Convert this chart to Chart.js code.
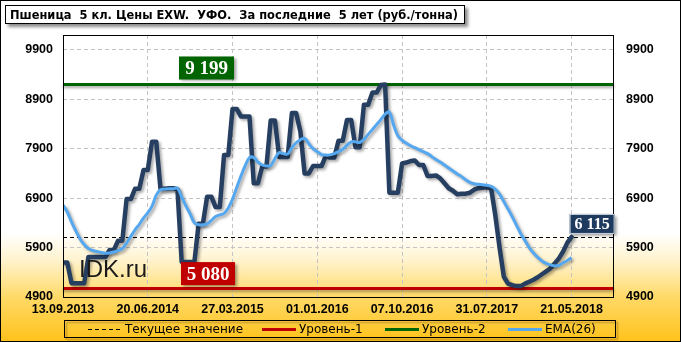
<!DOCTYPE html>
<html>
<head>
<meta charset="utf-8">
<script src="https://cdn.jsdelivr.net/npm/chart.js@4.4.1/dist/chart.umd.min.js"></script>
<style>
html, body { margin: 0; padding: 0; background: #fff; }
canvas { display: block; }
</style>
</head>
<body>
<canvas id="myChart" width="681" height="342"></canvas>
<script>
// Подписи оси X (через каждые 20 точек)
const xTickIndex = [0, 20, 40, 60, 80, 100, 120];
const xTickLabels = ['13.09.2013', '20.06.2014', '27.03.2015', '01.01.2016', '07.10.2016', '31.07.2017', '21.05.2018'];
const yTickValues = [4900, 5900, 6900, 7900, 8900, 9900];

// Цена, руб./тонна
const priceValues = [
  5600, 5600, 5180, 5180, 5180, 5180, 5710, 5710, 5710, 5710,
  5710, 5850, 5850, 6040, 6040, 6880, 6880, 7090, 7090, 7470,
  7470, 8040, 8040, 7090, 7090, 7100, 7100, 7080, 5610, 5610,
  5610, 5610, 6380, 6380, 6930, 6930, 6720, 6720, 7775, 7775,
  8705, 8705, 8550, 8550, 8550, 7200, 7200, 7540, 7540, 8470,
  8470, 7730, 7730, 7730, 8620, 8620, 8250, 7400, 7400, 7550,
  7550, 7550, 7750, 7720, 7720, 8060, 8060, 8480, 8480, 7930,
  7930, 8790, 8790, 9035, 9035, 9190, 9199, 7010, 7010, 7010,
  7600, 7620, 7650, 7660, 7570, 7570, 7350, 7350, 7360, 7300,
  7200, 7100, 7050, 6980, 6990, 6990, 7010, 7070, 7100, 7110,
  7120, 7100, 6550, 5900, 5310, 5170, 5140, 5120, 5120, 5170,
  5210, 5250, 5300, 5360, 5420, 5480, 5580, 5680, 5820, 6000,
  6115
];

// EMA(26)
const emaValues = [
  6760, 6620, 6420, 6240, 6080, 5960, 5880, 5840, 5820, 5800,
  5785, 5790, 5810, 5840, 5880, 5990, 6130, 6260, 6370, 6500,
  6600, 6740, 6960, 7070, 7080, 7090, 7090, 7100, 6920, 6740,
  6580, 6400, 6360, 6360, 6380, 6450, 6530, 6560, 6590, 6700,
  6880, 7120, 7350, 7560, 7720, 7720, 7630, 7570, 7550, 7560,
  7700, 7820, 7800, 7790, 7920, 8020, 8080, 8110, 8000, 7900,
  7840, 7780, 7770, 7775, 7800, 7840, 7890, 7970, 8040, 8040,
  8025, 8090, 8190, 8290, 8390, 8490, 8600, 8640, 8380, 8160,
  8070, 8010, 7960, 7920, 7880, 7840, 7800, 7740, 7680, 7630,
  7570, 7510, 7450, 7390, 7340, 7270, 7220, 7190, 7180, 7170,
  7160, 7140, 7080, 6980, 6830, 6680, 6520, 6350, 6180, 6040,
  5900, 5790, 5700, 5630, 5580, 5550, 5530, 5540, 5590, 5640,
  5700
];

const currentValue = 6115;
const level1 = 5080;
const level2 = 9199;

const titleText = 'Пшеница  5 кл. Цены EXW.  УФО.  За последние  5 лет (руб./тонна)';

function fmt(v) {
  return String(v).replace(/\B(?=(\d{3})+(?!\d))/g, ' ');
}

// Подпись значения в цветной плашке
function drawTag(ctx, x, y, w, h, color, text, font, frame) {
  ctx.save();
  ctx.shadowColor = 'rgba(0,0,0,0.4)';
  ctx.shadowOffsetX = 2;
  ctx.shadowOffsetY = 2;
  ctx.shadowBlur = 3;
  ctx.fillStyle = color;
  ctx.fillRect(x, y, w, h);
  ctx.restore();
  if (frame) {
    ctx.save();
    ctx.strokeStyle = frame;
    ctx.lineWidth = 1;
    ctx.strokeRect(x + 0.5, y + 0.5, w - 1, h - 1);
    ctx.restore();
  }
  ctx.save();
  ctx.fillStyle = '#ffffff';
  ctx.font = font;
  ctx.textAlign = 'center';
  ctx.textBaseline = 'middle';
  ctx.fillText(text, x + w / 2, y + h / 2 + 1);
  ctx.restore();
}

const decorPlugin = {
  id: 'decor',
  beforeDraw(chart) {
    const ctx = chart.ctx;
    const g = ctx.createLinearGradient(0, 0, 0, chart.height);
    g.addColorStop(0, '#ffffff');
    g.addColorStop(0.68, '#ffffff');
    g.addColorStop(0.76, '#fff3cf');
    g.addColorStop(0.87, '#ffd966');
    g.addColorStop(1, '#ffc21a');
    ctx.save();
    ctx.fillStyle = g;
    ctx.fillRect(0, 0, chart.width, chart.height);
    ctx.restore();
  },
  beforeDatasetsDraw(chart) {
    const ctx = chart.ctx;
    const a = chart.chartArea;
    const y = chart.scales.y;
    // уровни
    [[level2, '#006400'], [level1, '#c00000']].forEach(([v, c]) => {
      const py = Math.round(y.getPixelForValue(v)) + 0.5;
      ctx.save();
      ctx.shadowColor = 'rgba(0,0,0,0.35)';
      ctx.shadowOffsetY = 2;
      ctx.shadowBlur = 3;
      ctx.strokeStyle = c;
      ctx.lineWidth = 3;
      ctx.beginPath();
      ctx.moveTo(a.left, py);
      ctx.lineTo(a.right, py);
      ctx.stroke();
      ctx.restore();
    });
    // текущее значение
    const cy = Math.round(y.getPixelForValue(currentValue)) + 0.5;
    ctx.save();
    ctx.strokeStyle = '#000000';
    ctx.lineWidth = 1;
    ctx.setLineDash([4, 3]);
    ctx.beginPath();
    ctx.moveTo(a.left, cy);
    ctx.lineTo(a.right, cy);
    ctx.stroke();
    ctx.restore();
  },
  beforeDatasetDraw(chart) {
    const ctx = chart.ctx;
    ctx.save();
    ctx.shadowColor = 'rgba(0,0,0,0.35)';
    ctx.shadowOffsetX = 2;
    ctx.shadowOffsetY = 2;
    ctx.shadowBlur = 3;
  },
  afterDatasetDraw(chart) {
    chart.ctx.restore();
  },
  afterDatasetsDraw(chart) {
    const ctx = chart.ctx;
    const a = chart.chartArea;
    const y = chart.scales.y;
    const x = chart.scales.x;

    ctx.save();
    ctx.fillStyle = '#1a1a1a';
    ctx.font = '24px "Liberation Sans", Arial, sans-serif';
    ctx.textBaseline = 'alphabetic';
    ctx.fillText('IDK.ru', 79, 277);
    ctx.restore();

    ctx.save();
    ctx.strokeStyle = '#000000';
    ctx.lineWidth = 1;
    ctx.strokeRect(a.left + 0.5, a.top + 0.5, a.right - a.left - 1, a.bottom - a.top);
    ctx.restore();

    const serif = 'bold 19px "Liberation Serif", "Times New Roman", serif';
    const y2 = y.getPixelForValue(level2);
    drawTag(ctx, 179, y2 - 28, 55, 23, '#006400', fmt(level2), serif);
    const y1 = y.getPixelForValue(level1);
    drawTag(ctx, 181, y1 - 26, 54, 23, '#c00000', fmt(level1), serif);
    const yc = y.getPixelForValue(currentValue);
    const xc = x.getPixelForValue(priceValues.length - 1);
    drawTag(ctx, xc - 2, yc - 23, 45, 20, '#1f3a5f', fmt(currentValue),
      'bold 16px "Liberation Serif", "Times New Roman", serif', '#c9d3df');
  },
  afterDraw(chart) {
    const ctx = chart.ctx;

    // заголовок
    ctx.save();
    ctx.shadowColor = 'rgba(0,0,0,0.45)';
    ctx.shadowOffsetX = 3;
    ctx.shadowOffsetY = 3;
    ctx.shadowBlur = 3;
    ctx.fillStyle = '#ffffff';
    ctx.fillRect(5, 5, 460, 19);
    ctx.restore();
    ctx.save();
    ctx.strokeStyle = '#000000';
    ctx.strokeRect(5.5, 5.5, 459, 18);
    ctx.fillStyle = '#000000';
    ctx.font = 'bold 12px "DejaVu Sans", sans-serif';
    ctx.textBaseline = 'alphabetic';
    ctx.fillText(titleText, 10, 19, 448);
    ctx.restore();

    // легенда
    ctx.save();
    ctx.shadowColor = 'rgba(0,0,0,0.35)';
    ctx.shadowOffsetX = 2;
    ctx.shadowOffsetY = 2;
    ctx.shadowBlur = 2;
    ctx.strokeStyle = '#000000';
    ctx.strokeRect(64.5, 320.5, 551, 17);
    ctx.restore();

    const items = [
      { x: 88, text: 'Текущее значение', color: '#000000', width: 1, dash: [4, 3] },
      { x: 262, text: 'Уровень-1', color: '#c00000', width: 3, dash: [] },
      { x: 385, text: 'Уровень-2', color: '#006400', width: 3, dash: [] },
      { x: 508, text: 'EMA(26)', color: '#55a8f0', width: 3, dash: [] }
    ];
    items.forEach(it => {
      ctx.save();
      ctx.strokeStyle = it.color;
      ctx.lineWidth = it.width;
      ctx.setLineDash(it.dash);
      ctx.beginPath();
      ctx.moveTo(it.x, 329.5);
      ctx.lineTo(it.x + 34, 329.5);
      ctx.stroke();
      ctx.restore();
      ctx.save();
      ctx.fillStyle = '#000000';
      ctx.font = '12px "DejaVu Sans", sans-serif';
      ctx.textBaseline = 'middle';
      ctx.fillText(it.text, it.x + 37, 330);
      ctx.restore();
    });

    // рамка
    ctx.save();
    ctx.strokeStyle = '#000000';
    ctx.strokeRect(0.5, 0.5, chart.width - 1, chart.height - 1);
    ctx.restore();
  }
};

const tickFont = { family: '"Liberation Sans", Arial, sans-serif', size: 12.5, weight: 'bold' };

function setYTicks(scale) {
  scale.ticks = yTickValues.map(v => ({ value: v }));
}

new Chart(document.getElementById('myChart').getContext('2d'), {
  type: 'line',
  data: {
    datasets: [
      {
        label: 'EMA(26)',
        data: emaValues.map((v, i) => ({ x: i, y: v })),
        borderColor: '#55a8f0',
        borderWidth: 3,
        pointRadius: 0,
        tension: 0.35,
        fill: false,
        order: 0
      },
      {
        label: 'Цена',
        data: priceValues.map((v, i) => ({ x: i, y: v })),
        borderColor: '#263f61',
        borderWidth: 4.5,
        borderJoinStyle: 'round',
        borderCapStyle: 'round',
        pointRadius: 0,
        tension: 0,
        fill: false,
        order: 1
      }
    ]
  },
  options: {
    responsive: false,
    animation: false,
    devicePixelRatio: 1,
    layout: { padding: { top: 35, left: 0, right: 0, bottom: 0 } },
    plugins: {
      legend: { display: false },
      title: { display: false },
      tooltip: { enabled: false }
    },
    scales: {
      x: {
        type: 'linear',
        min: 0,
        max: 130,
        afterBuildTicks: s => { s.ticks = xTickIndex.map(v => ({ value: v })); },
        afterFit: s => { s.height = 45; },
        grid: { color: '#c4c4c4', lineWidth: 1, drawTicks: false },
        border: { display: false, dash: [4, 3] },
        ticks: {
          autoSkip: false,
          maxRotation: 0,
          padding: 5,
          color: '#000000',
          font: tickFont,
          callback: v => {
            const k = xTickIndex.indexOf(v);
            return k >= 0 ? xTickLabels[k] : '';
          }
        }
      },
      y: {
        type: 'linear',
        position: 'left',
        min: 4900,
        max: 10200,
        afterBuildTicks: setYTicks,
        afterFit: s => { s.width = 63; },
        grid: { color: '#c4c4c4', lineWidth: 1, drawTicks: false },
        border: { display: false, dash: [4, 3] },
        ticks: { padding: 10, color: '#000000', font: tickFont, callback: v => String(v) }
      },
      y2: {
        type: 'linear',
        position: 'right',
        min: 4900,
        max: 10200,
        afterBuildTicks: setYTicks,
        afterFit: s => { s.width = 67; },
        grid: { display: false, drawTicks: false },
        border: { display: false },
        ticks: { padding: 12, color: '#000000', font: tickFont, callback: v => String(v) }
      }
    }
  },
  plugins: [decorPlugin]
});
</script>
</body>
</html>
